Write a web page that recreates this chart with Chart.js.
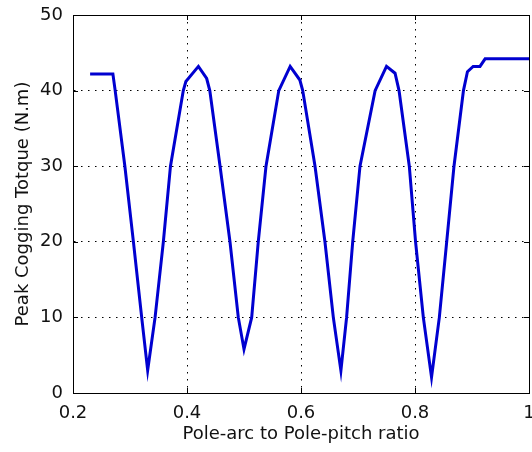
<!DOCTYPE html>
<html>
<head>
<meta charset="utf-8">
<script src="https://cdn.jsdelivr.net/npm/chart.js@4"></script>
<style>
  html, body { margin: 0; padding: 0; background: #fff; }
  #wrap { width: 532px; height: 452px; }
</style>
</head>
<body>
<div id="wrap"><canvas id="torqueChart"></canvas></div>
<script>
// pole-arc / pole-pitch ratio and peak cogging torque (N.m)
const ratio = [0.23, 0.27, 0.274, 0.291, 0.306, 0.3205, 0.331, 0.344, 0.3585, 0.371,
  0.3935, 0.398, 0.420, 0.4345, 0.440, 0.458, 0.4754, 0.490, 0.500, 0.5135,
  0.525, 0.5386, 0.561, 0.581, 0.598, 0.603, 0.6246, 0.642, 0.6567, 0.670,
  0.680, 0.6907, 0.7035, 0.730, 0.750, 0.765, 0.772, 0.790, 0.801, 0.8146,
  0.829, 0.8427, 0.8556, 0.8684, 0.885, 0.892, 0.902, 0.914, 0.923, 1.0];
const torque = [42.2, 42.2, 40, 30, 20, 10, 3.0, 10, 20, 30,
  40, 41.2, 43.2, 41.6, 40, 30, 20, 10, 5.8, 10,
  20, 30, 40, 43.2, 41.4, 40, 30, 20, 10, 2.95,
  10, 20, 30, 40, 43.2, 42.3, 40, 30, 20, 10,
  2.1, 10, 20, 30, 40, 42.5, 43.2, 43.2, 44.2, 44.2];
const xTicks = [0.2, 0.4, 0.6, 0.8, 1];
const yTicks = [0, 10, 20, 30, 40, 50];

const points = ratio.map((r, i) => ({ x: r, y: torque[i] }));

// box around the axes plus inward tick marks, matlab style
const boxPlugin = {
  id: 'box',
  afterDraw(chart) {
    const { ctx, chartArea: a, scales } = chart;
    ctx.save();
    ctx.strokeStyle = '#000';
    ctx.lineWidth = 1;
    ctx.beginPath();
    xTicks.forEach(v => {
      const px = Math.round(scales.x.getPixelForValue(v)) + 0.5;
      ctx.moveTo(px, a.bottom); ctx.lineTo(px, a.bottom - 5);
      ctx.moveTo(px, a.top); ctx.lineTo(px, a.top + 5);
    });
    yTicks.forEach(v => {
      const py = Math.round(scales.y.getPixelForValue(v)) + 0.5;
      ctx.moveTo(a.left, py); ctx.lineTo(a.left + 5, py);
      ctx.moveTo(a.right, py); ctx.lineTo(a.right - 5, py);
    });
    ctx.stroke();
    ctx.strokeRect(Math.round(a.left) + 0.5, Math.round(a.top) + 0.5,
      Math.round(a.right - a.left), Math.round(a.bottom - a.top));
    ctx.restore();
  }
};

const font = { family: 'DejaVu Sans, sans-serif', size: 18 };

new Chart(document.getElementById('torqueChart'), {
  type: 'line',
  data: {
    datasets: [{
      data: points,
      borderColor: '#0000d0',
      borderWidth: 3,
      pointRadius: 0,
      tension: 0,
      fill: false
    }]
  },
  options: {
    responsive: true,
    maintainAspectRatio: false,
    animation: false,
    layout: { padding: { top: 15, right: 3, left: 0, bottom: 0 } },
    plugins: { legend: { display: false }, tooltip: { enabled: false } },
    scales: {
      x: {
        type: 'linear',
        min: 0.2,
        max: 1,
        afterBuildTicks: s => { s.ticks = xTicks.map(v => ({ value: v })); },
        afterFit: s => { s.height = 59; s.paddingLeft = 0; s.paddingRight = 0; },
        ticks: {
          font: font,
          color: '#111',
          padding: 10,
          maxRotation: 0,
          callback: v => String(v)
        },
        grid: { color: '#000', lineWidth: 1, drawTicks: false },
        border: { display: true, color: '#000', width: 1, dash: [1.5, 5.5] },
        title: {
          display: true,
          text: 'Pole-arc to Pole-pitch ratio',
          font: font,
          color: '#111',
          padding: { top: 2, bottom: 7 }
        }
      },
      y: {
        min: 0,
        max: 50,
        afterBuildTicks: s => { s.ticks = yTicks.map(v => ({ value: v })); },
        afterFit: s => { s.width = 73; s.paddingTop = 0; s.paddingBottom = 0; },
        ticks: { font: font, color: '#111', padding: 10 },
        grid: { color: '#000', lineWidth: 1, drawTicks: false },
        border: { display: true, color: '#000', width: 1, dash: [1.5, 5.5] },
        title: {
          display: true,
          text: 'Peak Cogging Totque (N.m)',
          font: font,
          color: '#111',
          padding: { top: 13, bottom: 0 }
        }
      }
    }
  },
  plugins: [boxPlugin]
});
</script>
</body>
</html>
